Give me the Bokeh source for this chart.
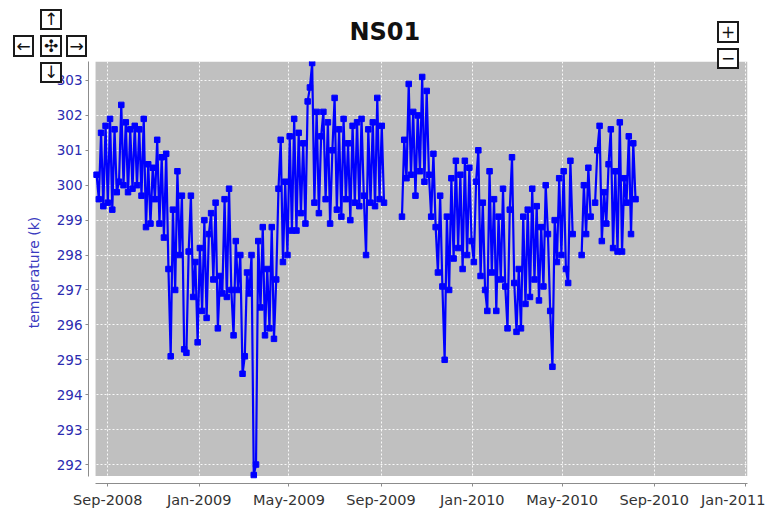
import numpy as np
import pandas as pd
from bokeh.plotting import figure
from bokeh.models import (Range1d, BoxAnnotation, FixedTicker, MonthsTicker,
                          DatetimeTickFormatter, ColumnDataSource, Div)
from bokeh.embed import file_html
from bokeh.resources import INLINE

NaN = float("nan")

title_text = "NS01"
y_label = "temperature (k)"
y_ticks = [292, 293, 294, 295, 296, 297, 298, 299, 300, 301, 302, 303]
tick_months = [0, 4, 8]  # Jan, May, Sep

seg1_start = "2008-08-17"
seg2_start = "2009-09-29"
step_days = 3

temps_1 = [
    300.3, 299.6, 301.5, 299.4, 301.7, 299.5, 301.9, 299.3, 301.6, 299.8,
    300.1, 302.3, 300.0, 301.8, 299.8, 301.6, 299.9, 301.7, 300.0, 301.6,
    299.7, 301.9, 298.8, 300.6, 298.9, 300.5, 299.6, 301.3, 298.9, 300.8,
    298.5, 300.9, 297.6, 295.1, 299.3, 297.0, 300.4, 298.0, 299.7, 295.3,
    295.2, 298.1, 299.7, 296.8, 297.8, 295.5, 298.2, 296.4, 299.0, 296.2,
    298.6, 299.2, 297.3, 299.5, 295.9, 297.4, 296.9, 299.6, 296.8, 299.9,
    297.0, 295.7, 298.4, 297.0, 298.0, 294.6, 295.1, 297.5, 296.9, 298.0,
    291.7, 292.0, 298.4, 296.5, 298.8, 295.7, 297.6, 295.9, 298.8, 295.6,
    297.3, 299.9, 301.3, 297.8, 300.1, 298.0, 301.4, 298.7, 301.9, 298.7,
    301.5, 299.2, 301.2, 298.9, 302.4, 302.8, 303.5, 299.5, 302.1, 299.2,
    301.4, 302.1, 299.6, 301.8, 298.9, 301.0, 302.5, 299.3, 301.6, 299.1,
    301.9, 299.6, 301.2, 299.0, 301.7, 299.5, 301.8, 299.4, 301.9, 299.7,
    298.0, 301.6, 299.5, 301.8, 299.4, 302.5, 299.6, 301.7, 299.5,
]

temps_2 = [
    299.1, 301.3, 300.2, 302.9, 300.3, 302.1, 299.7, 302.0, 300.4, 303.1,
    300.1, 302.7, 300.3, 299.1, 300.9, 298.8, 297.5, 299.7, 297.1, 295.0,
    299.1, 297.0, 300.2, 297.9, 300.7, 298.2, 300.3, 297.6, 300.7, 298.0,
    300.5, 298.4, 297.8, 300.1, 301.0, 297.4, 299.5, 297.0, 296.4, 300.4,
    297.5, 299.6, 296.4, 299.1, 297.3, 299.9, 297.1, 295.9, 299.3, 300.8,
    297.2, 295.8, 297.6, 295.9, 299.1, 296.6, 299.3, 296.8, 299.9, 297.3,
    299.4, 296.7, 298.8, 297.1, 300.0, 298.6, 296.4, 294.8, 299.0, 297.8,
    300.2, 298.0, 300.4, 297.6, 297.2, 300.7, 298.6, NaN, NaN, NaN,
    298.0, 300.0, 298.6, 300.5, 299.1, NaN, 299.5, 301.0, 301.7, 298.4,
    299.8, 298.9, 300.6, 301.6, 298.2, 300.4, 298.1, 301.8, 298.1, 300.2,
    299.5, 301.4, 298.6, 301.2, 299.6,
]

dates_1 = pd.date_range(seg1_start, periods=len(temps_1), freq=f"{step_days}D")
dates_2 = pd.date_range(seg2_start, periods=len(temps_2), freq=f"{step_days}D")
gap_date = dates_1[-1] + pd.Timedelta(days=step_days)

xs = np.concatenate([dates_1.values, np.array([gap_date.to_datetime64()]), dates_2.values])
ys = np.array(temps_1 + [NaN] + temps_2, dtype=float)
src = ColumnDataSource(data=dict(date=xs, temp=ys))

# layout helpers (pixel geometry of the reference)
ref_day = pd.Timestamp("2008-09-01")
x_start = ref_day - pd.Timedelta(days=25.8)
x_end = ref_day + pd.Timedelta(days=854.6)
plot_left = ref_day - pd.Timedelta(days=16.4)
y_bottom, y_top = 291.457, 303.543
plot_bottom = 291.669

p = figure(width=765, height=511, x_axis_type="datetime",
           x_range=Range1d(x_start, x_end), y_range=Range1d(y_bottom, y_top),
           output_backend="svg", toolbar_location=None,
           min_border_left=88, min_border_right=18, min_border_top=60, min_border_bottom=28,
           background_fill_color="white", border_fill_color="white",
           outline_line_color=None)

p.title.text = title_text
p.title.align = "left"
p.title.offset = 261
p.title.text_font = "DejaVu Sans"
p.title.text_font_size = "24px"
p.title.text_font_style = "bold"
p.title.text_color = "#111111"
p.title.standoff = 31

# gray plotting area
bg = BoxAnnotation(left=plot_left, bottom=plot_bottom, fill_color="#c0c0c0",
                   fill_alpha=1.0, line_color=None, level="image")
p.add_layout(bg)

xt = MonthsTicker(months=tick_months)
p.xaxis.ticker = xt
p.xgrid.ticker = xt
fmt = "%b-%Y"
p.xaxis.formatter = DatetimeTickFormatter(months=fmt, days=fmt, years=fmt)
yt = FixedTicker(ticks=y_ticks)
p.yaxis.ticker = yt
p.ygrid.ticker = yt

for ax in (p.xaxis[0], p.yaxis[0]):
    ax.axis_line_color = "#8c8c8c"
    ax.major_tick_line_color = "#8c8c8c"
    ax.major_tick_out = 3
    ax.major_tick_in = 0
    ax.minor_tick_out = 0
    ax.minor_tick_in = 0
    ax.major_label_text_font = "DejaVu Sans"

p.xaxis.bounds = (plot_left, x_end)
p.yaxis.bounds = (plot_bottom, y_top)
p.xaxis.major_label_text_font_size = "14.5px"
p.xaxis.major_label_text_color = "#333333"
p.xaxis.major_label_standoff = 5
p.yaxis.major_label_text_font_size = "13.5px"
p.yaxis.major_label_text_color = "#2b2bb0"
p.yaxis.major_label_standoff = 3
p.yaxis.axis_label = y_label
p.yaxis.axis_label_text_font = "DejaVu Sans"
p.yaxis.axis_label_text_font_size = "14px"
p.yaxis.axis_label_text_font_style = "normal"
p.yaxis.axis_label_text_color = "#3a3ac0"
p.yaxis.axis_label_standoff = 12

for g in (p.xgrid[0], p.ygrid[0]):
    g.grid_line_color = "white"
    g.grid_line_dash = "2 2"
    g.grid_line_width = 1
    g.grid_line_alpha = 0.9

p.line("date", "temp", source=src, line_color="#0000ff", line_width=2.2)
p.scatter("date", "temp", source=src, marker="square", size=5.5,
          fill_color="#0000ff", line_color="#0000ff")

# navigation buttons drawn as floating HTML boxes (left, top, width, height in px)
buttons = [
    ("\u2191", 40, 9, 22, 21),
    ("\u2190", 13, 35, 21, 22),
    ("\u2723", 40, 35, 22, 22),
    ("\u2192", 66, 35, 21, 22),
    ("\u2193", 40, 62, 22, 21),
    ("+", 717, 21, 22, 22),
    ("\u2212", 717, 48, 22, 21),
]
html = "".join(
    f'<div style="position:absolute;left:{l}px;top:{t}px;width:{w}px;height:{h}px;'
    f'box-sizing:border-box;border:2px solid #1a1a1a;background:#fff;'
    f'font-family:\'DejaVu Sans\';font-size:17px;line-height:{h - 4}px;'
    f'text-align:center;color:#111;">{sym}</div>'
    for sym, l, t, w, h in buttons
)
nav = Div(text=html, width=1, height=1,
          styles={"position": "absolute", "left": "0px", "top": "0px", "z-index": "10",
                  "overflow": "visible"})
if hasattr(p, "elements"):
    p.elements.append(nav)

open("out.html", "w").write(file_html(p, INLINE))
